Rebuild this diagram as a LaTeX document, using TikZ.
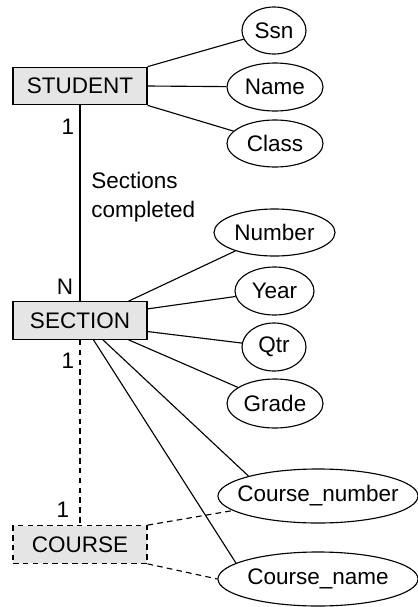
\documentclass[tikz,border=0pt]{standalone}
\usepackage{fontspec}
\setmainfont{Liberation Sans}
\usetikzlibrary{positioning,shapes.geometric,calc}
\newcommand{\erFont}{\fontsize{16}{20.6}\selectfont}

\begin{document}
\begin{tikzpicture}[
    x=0.025cm, y=-0.025cm,
    entityBox/.style={rectangle, draw=black, fill=gray!20, line width=0.8pt, minimum width=3.35cm, minimum height=0.94cm, inner sep=0pt, font=\erFont},
    weakBox/.style={dash pattern=on 4pt off 3pt},
    attrOval/.style={ellipse, draw=black, line width=0.8pt, inner sep=0pt, font=\erFont},
    erLink/.style={line width=0.8pt},
    weakLink/.style={line width=0.8pt, dash pattern=on 4pt off 3pt},
    cardLabel/.style={inner sep=0pt, font=\erFont},
    relLabel/.style={inner sep=0pt, align=left, font=\erFont}
]
    \useasboundingbox (0,0) rectangle (417,607);

    \node[entityBox] (student) at (80,86) {STUDENT};
    \node[entityBox] (section) at (80,320.5) {SECTION};
    \node[entityBox, weakBox] (course) at (80,544.5) {COURSE};

    \node[attrOval, minimum width=1.6cm, minimum height=1.175cm] (ssn) at (274,30.5) {Ssn};
    \node[attrOval, minimum width=2.4cm, minimum height=1.2cm] (name) at (275,87) {Name};
    \node[attrOval, minimum width=2.4cm, minimum height=1.175cm] (class) at (275,143.5) {Class};

    \node[attrOval, minimum width=3.025cm, minimum height=1.175cm] (number) at (274.5,232.5) {Number};
    \node[attrOval, minimum width=1.975cm, minimum height=1.2cm] (year) at (274.5,291) {Year};
    \node[attrOval, minimum width=1.6cm, minimum height=1.2cm] (qtr) at (274,347) {Qtr};
    \node[attrOval, minimum width=2.4cm, minimum height=1.225cm] (grade) at (275,403.5) {Grade};
    \node[attrOval, inner xsep=-8pt, minimum width=5.0cm, minimum height=1.35cm] (cnum) at (318,496) {Course\_number};
    \node[attrOval, inner xsep=-8pt, minimum width=5.0cm, minimum height=1.35cm] (cname) at (318,579) {Course\_name};

    \draw[erLink] (student.north east) -- (ssn);
    \draw[erLink] (student.east) -- (name);
    \draw[erLink] (student.south east) -- (class);
    \draw[erLink] (student.south) -- (section.north);

    \draw[erLink] ($(section.north)!0.72!(section.north east)$) -- (number);
    \draw[erLink] ($(section.east)!0.6!(section.north east)$) -- (year);
    \draw[erLink] ($(section.east)!0.57!(section.south east)$) -- (qtr);
    \draw[erLink] ($(section.south)!0.72!(section.south east)$) -- (grade);
    \draw[erLink] ($(section.south)!0.34!(section.south east)$) -- (cnum.164);
    \draw[erLink] ($(section.south)!0.2!(section.south east)$) -- (cname.169);

    \draw[weakLink] (section.south) -- (course.north);
    \draw[weakLink] (course.north east) -- (cnum);
    \draw[weakLink] (course.south east) -- (cname.west);

    \node[cardLabel] (card1) at (68,127) {1};
    \node[cardLabel] (cardN) at (65,287) {N};
    \node[cardLabel] (card2) at (68,361) {1};
    \node[cardLabel] (card3) at (63,510) {1};
    \node[relLabel, anchor=west] (rel) at (91,197.5) {Sections\\completed};
\end{tikzpicture}
\end{document}
